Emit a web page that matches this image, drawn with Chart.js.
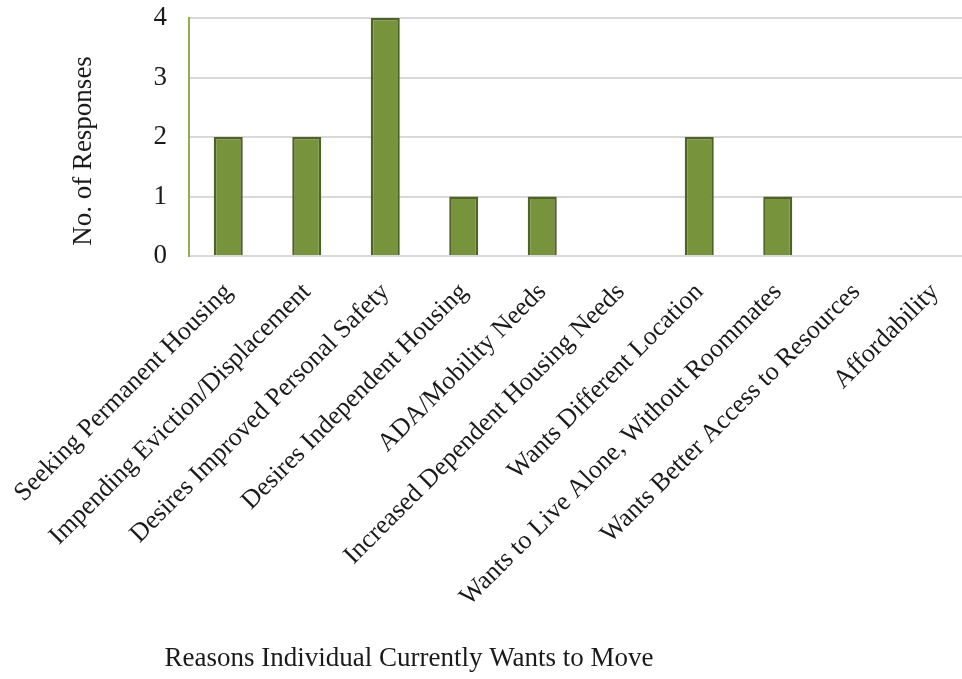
<!DOCTYPE html>
<html>
<head>
<meta charset="utf-8">
<script src="https://cdn.jsdelivr.net/npm/chart.js@4.4.1/dist/chart.umd.min.js"></script>
<style>
  html, body { margin: 0; padding: 0; background: #ffffff; overflow: hidden; }
  body { width: 962px; height: 679px; }
  #wrap { position: relative; width: 990px; height: 679px; }
</style>
</head>
<body>
<div id="wrap"><canvas id="chart"></canvas></div>
<script>
// Reasons people gave for wanting to move, and how many gave each one
const categories = [
  'Seeking Permanent Housing',
  'Impending Eviction/Displacement',
  'Desires Improved Personal Safety',
  'Desires Independent Housing',
  'ADA/Mobility Needs',
  'Increased Dependent Housing Needs',
  'Wants Different Location',
  'Wants to Live Alone, Without Roommates',
  'Wants Better Access to Resources',
  'Affordability'
];
const responses = [2, 2, 4, 1, 1, 0, 2, 1, 0, 0];
const yTicks = [0, 1, 2, 3, 4];

const xTitle = 'Reasons Individual Currently Wants to Move';
const yTitle = 'No. of Responses';

const FONT = '"Liberation Serif", "Times New Roman", serif';
const TEXT = '#1a1a1a';

// Axis titles placed where the report layout puts them
const axisTitles = {
  id: 'axisTitles',
  afterDraw(chart) {
    const ctx = chart.ctx;
    ctx.save();
    ctx.fillStyle = TEXT;
    ctx.font = '27px ' + FONT;
    ctx.textAlign = 'center';
    ctx.textBaseline = 'middle';
    ctx.fillText(xTitle, 409, 659);
    ctx.translate(84, 151);
    ctx.rotate(-Math.PI / 2);
    ctx.fillText(yTitle, 0, 0);
    ctx.restore();
  }
};

// Keep the long slanted labels from pushing the plot inwards
function noScalePadding(scale) {
  scale.paddingLeft = 0;
  scale.paddingRight = 0;
  scale.paddingTop = 0;
  scale.paddingBottom = 0;
}

new Chart(document.getElementById('chart'), {
  type: 'bar',
  data: {
    labels: categories,
    datasets: [{
      data: responses,
      backgroundColor: '#77933C',
      borderColor: '#4F6228',
      borderWidth: 2.5,
      borderSkipped: 'bottom',
      categoryPercentage: 1,
      barPercentage: 0.37
    }]
  },
  options: {
    responsive: true,
    maintainAspectRatio: false,
    animation: false,
    layout: { padding: { top: 18, right: 16, bottom: 0, left: 0 } },
    plugins: {
      legend: { display: false },
      tooltip: { enabled: false }
    },
    scales: {
      x: {
        grid: { display: false, drawTicks: false },
        border: { display: true, color: '#d9d9d9', width: 2 },
        ticks: {
          color: TEXT,
          font: { family: FONT, size: 26 },
          minRotation: 45,
          maxRotation: 45,
          autoSkip: false,
          padding: 21
        },
        afterFit(scale) {
          scale.height = 423;
          noScalePadding(scale);
        }
      },
      y: {
        min: 0,
        max: 4,
        afterBuildTicks(scale) { scale.ticks = yTicks.map(v => ({ value: v })); },
        grid: { color: '#d9d9d9', lineWidth: 2, drawTicks: false },
        border: { display: true, color: '#8FB04F', width: 2 },
        ticks: {
          color: TEXT,
          font: { family: FONT, size: 27 },
          padding: 22
        },
        afterFit(scale) {
          scale.width = 189;
          noScalePadding(scale);
        }
      }
    }
  },
  plugins: [axisTitles]
});
</script>
</body>
</html>
